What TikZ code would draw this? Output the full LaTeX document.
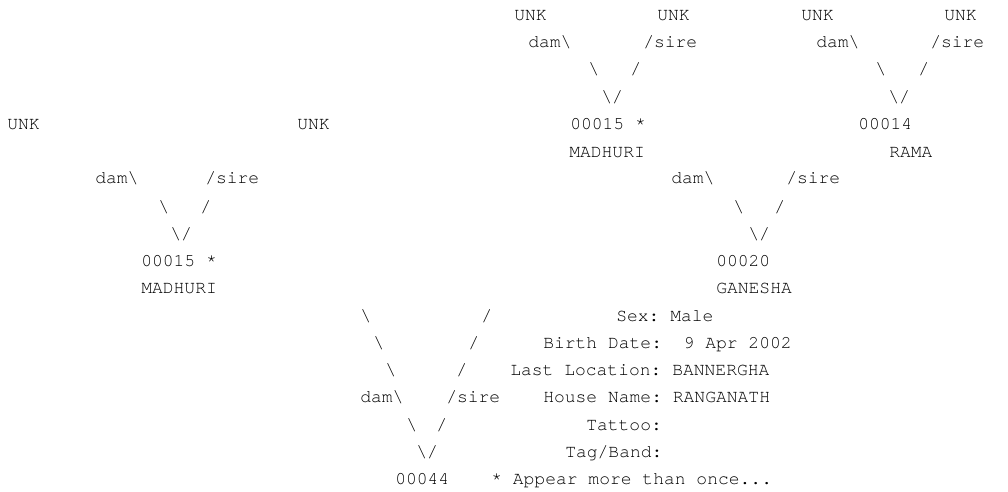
\documentclass[tikz,border=0pt]{standalone}
\usepackage{fontspec}
\setmonofont{texgyrecursor-regular.otf}
\usepackage{tikz}
\tikzset{ped/.style={anchor=base west, inner sep=0pt, font=\ttfamily\fontsize{13.5pt}{16pt}\selectfont}}
\newcommand{\bsl}{\textbackslash}

\begin{document}
\begin{tikzpicture}[x=0.75pt, y=-0.75pt]
	\useasboundingbox (0,0) rectangle (1008,492);
	% great-grandparents
	\node[ped] (unkMD) at (514,21) {UNK};
	\node[ped] (unkMS) at (657,21) {UNK};
	\node[ped] (unkRD) at (801,21) {UNK};
	\node[ped] (unkRS) at (944,21) {UNK};
	\node[ped] (damM) at (528,48) {dam\bsl};
	\node[ped] (sireM) at (643,48) {/sire};
	\node[ped] (damR) at (816,48) {dam\bsl};
	\node[ped] (sireR) at (930,48) {/sire};
	\node[ped] (bsM) at (588,75) {\bsl};
	\node[ped] (slM) at (630,75) {/};
	\node[ped] (bsR) at (875,75) {\bsl};
	\node[ped] (slR) at (918,75) {/};
	\node[ped] (vM) at (601,103) {\bsl/};
	\node[ped] (vR) at (888,103) {\bsl/};
	% grandparents
	\node[ped] (unkD) at (7,130) {UNK};
	\node[ped] (unkS) at (297,130) {UNK};
	\node[ped] (id15b) at (570,130) {00015 *};
	\node[ped] (id14) at (858,130) {00014};
	\node[ped] (nmMb) at (569,157) {MADHURI};
	\node[ped] (nmR) at (889,157) {RAMA};
	\node[ped] (damL) at (95,184) {dam\bsl};
	\node[ped] (sireL) at (205,184) {/sire};
	\node[ped] (damG) at (671,184) {dam\bsl};
	\node[ped] (sireG) at (786,184) {/sire};
	\node[ped] (bsL) at (158,212) {\bsl};
	\node[ped] (slL) at (200,212) {/};
	\node[ped] (bsG) at (733,212) {\bsl};
	\node[ped] (slG) at (774,212) {/};
	\node[ped] (vL) at (170,239) {\bsl/};
	\node[ped] (vG) at (748,239) {\bsl/};
	% parents
	\node[ped] (id15a) at (141,266) {00015 *};
	\node[ped] (id20) at (716,266) {00020};
	\node[ped] (nmMa) at (141,293) {MADHURI};
	\node[ped] (nmG) at (716,293) {GANESHA};
	\node[ped] (bs1) at (360,321) {\bsl};
	\node[ped] (sl1) at (481,321) {/};
	\node[ped] (bs2) at (373,348) {\bsl};
	\node[ped] (sl2) at (468,348) {/};
	\node[ped] (bs3) at (385,375) {\bsl};
	\node[ped] (sl3) at (456,375) {/};
	\node[ped] (dam) at (360,402) {dam\bsl};
	\node[ped] (sire) at (446,402) {/sire};
	\node[ped] (bs4) at (406,430) {\bsl};
	\node[ped] (sl4) at (436,430) {/};
	\node[ped] (v) at (416,457) {\bsl/};
	\node[ped] (id44) at (395,484) {00044};
	% details
	\node[ped] (sex) at (616,321) {Sex: Male};
	\node[ped] (birth) at (543,348) {Birth Date:~~9 Apr 2002};
	\node[ped] (loc) at (510,375) {Last Location: BANNERGHA};
	\node[ped] (house) at (543,402) {House Name: RANGANATH};
	\node[ped] (tattoo) at (586,430) {Tattoo:};
	\node[ped] (tag) at (565,457) {Tag/Band:};
	\node[ped] (note) at (491,484) {* Appear more than once...};
\end{tikzpicture}
\end{document}
